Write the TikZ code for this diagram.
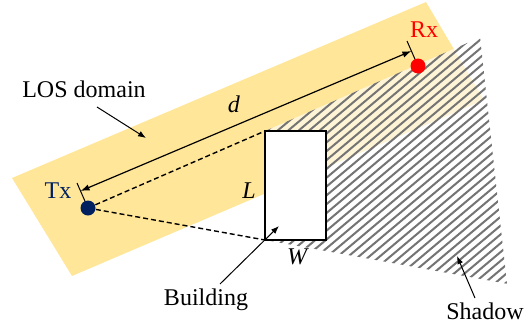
\documentclass[tikz,border=0pt]{standalone}
\usepackage{fontspec}
\setmainfont{Liberation Serif}
\usetikzlibrary{calc,arrows.meta}
\definecolor{losyellow}{HTML}{FFE699}
\definecolor{txblue}{HTML}{002060}
\definecolor{rxred}{HTML}{FF0000}
\definecolor{hatchgray}{HTML}{747474}

\begin{document}
\begin{tikzpicture}[
  x=0.5pt, y=-0.5pt,
  font=\fontsize{12}{14}\selectfont,
  pointer/.style = {-{Latex[length=4pt,width=3pt]}, line width=0.5pt},
  dim/.style = {{Latex[length=4.5pt,width=3.2pt]}-{Latex[length=4.5pt,width=3.2pt]}, line width=0.6pt},
  sight/.style = {dash pattern=on 2.5pt off 1.5pt, line width=0.7pt},
  station/.style = {circle, inner sep=0pt, minimum size=7.5pt},
  hatch/.style = {hatchgray, line width=1pt},
  building/.style = {draw, fill=white, line width=1pt},
]
  \useasboundingbox (0,0) rectangle (524,322);

  % LOS domain band
  \fill[losyellow] (12,178) -- (426,2) -- (484,100) -- (72,276) -- cycle;

  % key points
  \coordinate (tx) at (88,208);
  \coordinate (rx) at (418,66);
  \coordinate (bTL) at (265,131);
  \coordinate (bBL) at (265,240);
  \coordinate (bBR) at (326,240);
  \coordinate (sTop) at ($(tx)!2.215!(bTL)$);
  \coordinate (sBot) at ($(tx)!2.367!(bBL)$);

  % shadow behind the building
  \fill[white, opacity=0.6] (bTL) -- (sTop) -- (sBot) -- (bBL) -- cycle;
  \begin{scope}
    \clip (bTL) -- (sTop) -- (sBot) -- (bBL) -- cycle;
    \foreach \k in {0,...,52}
      \draw[hatch] (-50+10.5*\k,300) -- ++(357,-300);
  \end{scope}

  % building
  \draw[building] (bTL) rectangle (bBR);

  % sight lines to the corners
  \draw[sight] (tx) -- (bTL);
  \draw[sight] (tx) -- (bBL);

  % distance d
  \coordinate (txtick) at (77,183);
  \coordinate (rxtick) at (407,41);
  \draw[line width=0.5pt] (tx) -- (txtick);
  \draw[line width=0.5pt] (rx) -- (rxtick);
  \draw[dim] ($(tx)!0.68!(txtick)$) -- ($(rx)!0.6!(rxtick)$);

  \node[station, fill=txblue] (txdot) at (tx) {};
  \node[station, fill=rxred] (rxdot) at (rx) {};

  % labels
  \node[text=txblue] (txlbl) at (58,191) {Tx};
  \node[text=rxred] (rxlbl) at (424,30) {Rx};
  \node (dlbl) at (234,104) {\textit{d}};
  \node (llbl) at (249,191) {\textit{L}};
  \node (wlbl) at (298,257) {\textit{W}};
  \node (loslbl) at (84,89) {LOS domain};
  \node (bldlbl) at (206,300) {Building};
  \node (shdlbl) at (485,311) {Shadow};

  % pointers
  \coordinate (losfrom) at (97,107);
  \coordinate (losto) at (146,138);
  \coordinate (bldfrom) at (220,284);
  \coordinate (bldto) at (279,226);
  \coordinate (shdfrom) at (475,298);
  \coordinate (shdto) at (457,256);
  \draw[pointer] (losfrom) -- (losto);
  \draw[pointer] (bldfrom) -- (bldto);
  \draw[pointer] (shdfrom) -- (shdto);
\end{tikzpicture}
\end{document}
